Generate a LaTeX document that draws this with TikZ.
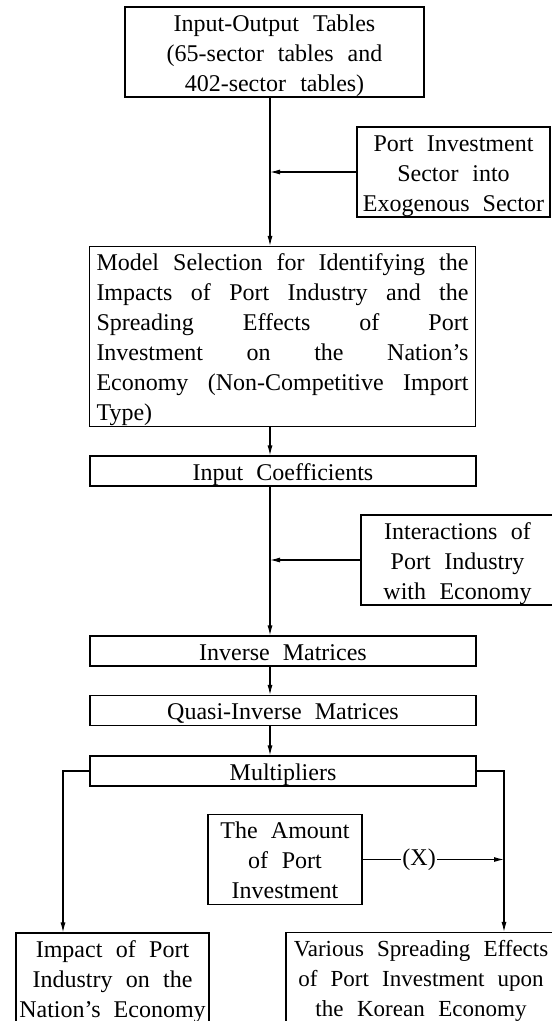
\documentclass[tikz,border=0pt]{standalone}
\usepackage{fontspec}
\setmainfont{Liberation Serif}[WordSpace={2.2,2,1}]
\usetikzlibrary{arrows.meta}
\newcommand{\ls}{\rule[-6pt]{0pt}{30pt}}
\tikzset{blk/.style={draw,line width=1.1pt,inner xsep=2pt,inner ysep=0pt,align=center,font=\fontsize{24}{30}\selectfont,
    execute at end node=\ls}}
\tikzset{ctr/.style={blk,execute at begin node={\spaceskip=13pt plus 1pt\xspaceskip=13pt plus 1pt\ls}}}
\tikzset{jst/.style={blk,align=justify,execute at begin node={\spaceskip=0pt\xspaceskip=0pt\ls}}}
\tikzset{ln/.style={line width=1.1pt}}
\tikzset{>={Latex[length=10pt,width=5pt]}}

\begin{document}
\begin{tikzpicture}[x=1pt, y=-1pt]
        \useasboundingbox (0,0) rectangle (552,1021);

        \node[ctr, text width=295pt, minimum height=90pt] (IO) at (274.5,52) {Input-Output Tables\\(65-sector tables and\\402-sector tables)};
        \node[ctr, text width=189pt, minimum height=90pt] (Exo) at (453.5,172) {Port Investment\\Sector into\\Exogenous Sector};
        \node[jst, text width=372pt, inner xsep=7pt, minimum height=180pt] (Model) at (282.5,336.5) {Model Selection for Identifying the\linebreak Impacts of Port Industry and the\linebreak Spreading Effects of Port\linebreak Investment on the Nation's\linebreak Economy (Non-Competitive Import\linebreak Type)};
        \node[ctr, minimum width=386pt, minimum height=30pt] (Coef) at (283,471) {Input Coefficients};
        \node[ctr, text width=189pt, minimum height=90pt] (Inter) at (457.5,560) {Interactions of\\Port Industry\\with Economy};
        \node[ctr, minimum width=386pt, minimum height=30pt] (Inv) at (283,651) {Inverse Matrices};
        \node[ctr, minimum width=386pt, minimum height=30pt] (Quasi) at (283,710.5) {Quasi-Inverse Matrices};
        \node[ctr, minimum width=386pt, minimum height=30pt] (Mult) at (283,771) {Multipliers};
        \node[ctr, text width=150pt, minimum height=89pt] (Amount) at (285,859.5) {The Amount\\of Port\\Investment};
        \node[ctr, text width=190pt, inner xsep=1.5pt, minimum height=90pt] (Impact) at (112.5,978) {Impact of Port\\Industry on the\\Nation's Economy};
        \node[ctr, font=\fontsize{23}{30}\selectfont, text width=266pt, minimum height=90pt] (Various) at (421,977.5) {Various Spreading Effects\\of Port Investment upon\\the Korean Economy};

        \coordinate (spine) at (270,0);
        \coordinate (L) at (63,0);
        \coordinate (R) at (504,0);

        \draw[ln,->] (IO.south -| spine) -- (Model.north -| spine);
        \draw[ln,->] (Exo.west) -- (Exo.west -| spine);
        \draw[ln,->] (Model.south -| spine) -- (Coef.north -| spine);
        \draw[ln,->] (Coef.south -| spine) -- (Inv.north -| spine);
        \draw[ln,->] (Inter.west) -- (Inter.west -| spine);
        \draw[ln,->] (Inv.south -| spine) -- (Quasi.north -| spine);
        \draw[ln,->] (Quasi.south -| spine) -- (Mult.north -| spine);

        \draw[ln,->] (Mult.west) -| (L |- Impact.north);
        \draw[ln,->] (Mult.east) -| (R |- Various.north);
        \draw[ln,->] (Amount.east) -- node[pos=0.4, fill=white, inner sep=1pt, font=\fontsize{24}{30}\selectfont] (X) {(X)} (Amount.east -| R);
\end{tikzpicture}
\end{document}
